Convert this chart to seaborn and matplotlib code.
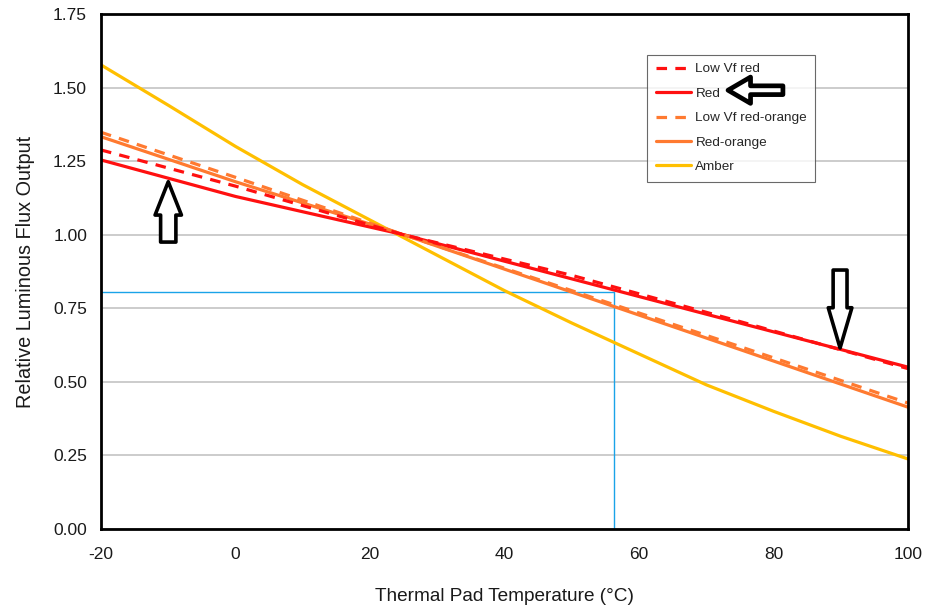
import matplotlib
matplotlib.use("Agg")
import matplotlib.pyplot as plt
from matplotlib.lines import Line2D
import numpy as np
import pandas as pd
import seaborn as sns

# Relative luminous flux vs. thermal pad temperature (normalised near 25 °C)
temps_linear = [-20, 0, 25, 50, 75, 100]
low_vf_red = [1.288, 1.165, 1.000, 0.862, 0.705, 0.545]
red = [1.254, 1.130, 1.000, 0.850, 0.700, 0.550]
low_vf_red_orange = [1.348, 1.195, 1.000, 0.810, 0.620, 0.428]
red_orange = [1.333, 1.180, 1.000, 0.805, 0.610, 0.414]

temps_amber = [-20, -10, 0, 10, 20, 30, 40, 50, 60, 70, 80, 90, 100]
amber = [1.577, 1.44, 1.30, 1.17, 1.05, 0.93, 0.81, 0.70, 0.595, 0.49, 0.40, 0.315, 0.238]

# Worked example: flux read-off at a given pad temperature
ref_temp = 56.3
ref_flux = 0.805

series_names = ["Low Vf red", "Red", "Low Vf red-orange", "Red-orange", "Amber"]
colors = {
    "Low Vf red": "#ff1010",
    "Red": "#ff1010",
    "Low Vf red-orange": "#ff7a30",
    "Red-orange": "#ff7a30",
    "Amber": "#ffbf00",
}
dash_style = {
    "Low Vf red": (3.3, 2.6),
    "Red": "",
    "Low Vf red-orange": (3.3, 2.6),
    "Red-orange": "",
    "Amber": "",
}

frames = []
for name, xs, ys in [
    ("Low Vf red", temps_linear, low_vf_red),
    ("Red", temps_linear, red),
    ("Low Vf red-orange", temps_linear, low_vf_red_orange),
    ("Red-orange", temps_linear, red_orange),
    ("Amber", temps_amber, amber),
]:
    frames.append(pd.DataFrame({"temp": xs, "flux": ys, "series": name}))
df = pd.concat(frames, ignore_index=True)

sns.set_style("white")
plt.rcParams["font.family"] = ["Liberation Sans", "DejaVu Sans"]
plt.rcParams["axes.unicode_minus"] = False

fig = plt.figure(figsize=(9.29, 6.10), dpi=100)
ax = fig.add_axes([101 / 929, 1 - 529 / 610, 807 / 929, 515 / 610])

# Reference read-off lines
ax.plot([-20, ref_temp], [ref_flux, ref_flux], color="#1aa3e8", lw=1.0, zorder=2)
ax.plot([ref_temp, ref_temp], [0, ref_flux], color="#1aa3e8", lw=1.0, zorder=2)

# Solid curves first, dashed variants on top
draw_order = ["Amber", "Red-orange", "Red", "Low Vf red-orange", "Low Vf red"]
for name in draw_order:
    sub = df[df["series"] == name]
    sns.lineplot(
        data=sub, x="temp", y="flux", ax=ax, color=colors[name],
        lw=2.3, legend=False, zorder=3, sort=True,
    )
    if dash_style[name]:
        ax.lines[-1].set_dashes(dash_style[name])

ax.set_xlim(-20, 100)
ax.set_ylim(0, 1.75)
ax.set_xticks(np.arange(-20, 101, 20))
ax.set_yticks(np.arange(0, 1.76, 0.25))
ax.set_yticklabels([f"{v:.2f}" for v in np.arange(0, 1.76, 0.25)])
ax.yaxis.grid(True, color="#c4c4c4", lw=1.2)
ax.xaxis.grid(False)
ax.set_axisbelow(True)

for sp in ax.spines.values():
    sp.set_color("black")
    sp.set_linewidth(2.0)
    sp.set_zorder(4)

ax.tick_params(axis="both", which="major", direction="out", length=4,
               width=1, color="#b0b0b0", labelsize=12.5, labelcolor="#1a1a1a")
ax.tick_params(axis="x", pad=9)
ax.tick_params(axis="y", pad=6)

ax.set_xlabel("Thermal Pad Temperature (°C)", fontsize=13.7, labelpad=19, color="#1a1a1a")
ax.set_ylabel("Relative Luminous Flux Output", fontsize=14.3, labelpad=13, color="#1a1a1a")

handles = [
    Line2D([], [], color=colors[n], lw=2.3,
           dashes=dash_style[n] if dash_style[n] else (None, None))
    for n in series_names
]
for h, n in zip(handles, series_names):
    if not dash_style[n]:
        h.set_linestyle("-")
leg = ax.legend(handles, series_names, loc="upper left",
                bbox_to_anchor=(0.677, 0.921), fontsize=9.7,
                frameon=True, fancybox=False, shadow=False,
                handlelength=2.65, handletextpad=0.3, labelspacing=0.89,
                borderpad=0.62, borderaxespad=0)
leg.get_frame().set_edgecolor("#444444")
leg.get_frame().set_linewidth(0.8)
leg.set_zorder(5)

# Pointer arrows (hollow, black outline)
ax.annotate("", xy=(-10.0, 1.18), xytext=(-10.0, 0.975), xycoords="data",
            arrowprops=dict(arrowstyle="simple,head_length=1.2,head_width=0.95,tail_width=0.55",
                            fc="white", ec="black", lw=2.6, shrinkA=0, shrinkB=0,
                            mutation_scale=20),
            zorder=6)
ax.annotate("", xy=(89.9, 0.615), xytext=(89.9, 0.88), xycoords="data",
            arrowprops=dict(arrowstyle="simple,head_length=1.45,head_width=0.85,tail_width=0.5",
                            fc="white", ec="black", lw=2.6, shrinkA=0, shrinkB=0,
                            mutation_scale=20),
            zorder=6)
ax.annotate("", xy=(0.777, 0.852), xytext=(0.845, 0.852), xycoords="axes fraction",
            arrowprops=dict(arrowstyle="simple,head_length=0.9,head_width=1.05,tail_width=0.35",
                            fc="white", ec="black", lw=3.4, shrinkA=0, shrinkB=0,
                            mutation_scale=18),
            zorder=7, annotation_clip=False)

fig.savefig("out.png", dpi=100)
